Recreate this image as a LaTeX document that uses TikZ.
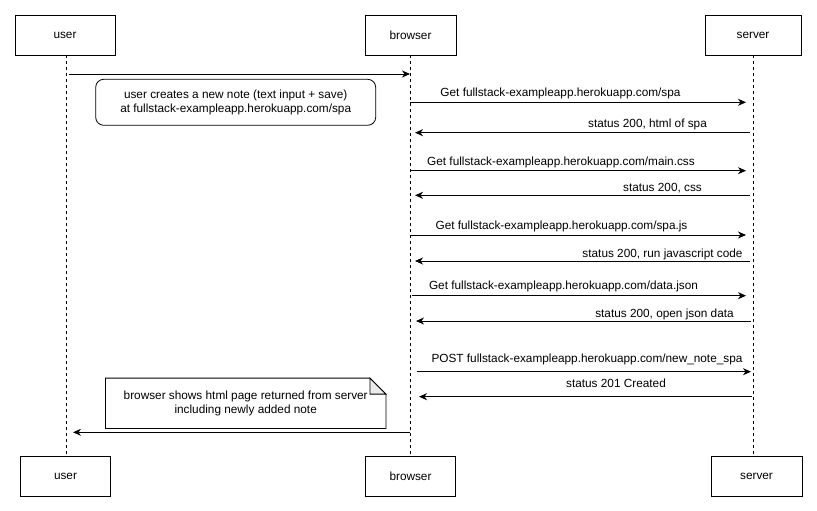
\documentclass[tikz,border=0pt]{standalone}
\usepackage{fontspec}
\setmainfont{Liberation Sans}
\usetikzlibrary{arrows.meta}
\definecolor{foldgray}{HTML}{EBEBEB}
\begin{document}
\begin{tikzpicture}[x=1pt,y=-1pt,
  actor/.style={draw,line width=0.8pt,minimum width=#1,minimum height=40pt,inner sep=0pt,font=\fontsize{11.8}{14}\selectfont},
  actor/.default=90pt,
  life/.style={dashed,line width=0.7pt,dash pattern=on 3pt off 3pt},
  msg/.style={line width=0.9pt,-{Stealth[length=8pt,width=7pt,inset=2.5pt]}},
  lbl/.style={anchor=base,inner sep=0pt,font=\fontsize{11.8}{14}\selectfont},
  notebox/.style={draw,rounded corners=8pt,line width=0.8pt,minimum width=280pt,minimum height=46pt,align=center,font=\fontsize{11.8}{14}\selectfont,inner sep=0pt}
]
\useasboundingbox (0,0) rectangle (817,511);
% actors top
\node[actor=100pt] (userT) at (65,35) {user};
\node[actor=91pt] (browserT) at (410.5,35) {browser};
\node[actor=96pt] (serverT) at (753,35) {server};
% actors bottom
\node[actor=90pt] (userB) at (65.5,476) {user};
\node[actor=90pt] (browserB) at (410.5,476) {browser};
\node[actor=91pt] (serverB) at (756.5,476) {server};
% lifelines
\coordinate (uTop) at (66,55); \coordinate (uBot) at (66,456);
\coordinate (bTop) at (410.5,55); \coordinate (bBot) at (410.5,456);
\coordinate (sTop) at (753,55); \coordinate (sBot) at (753,456);
\draw[life] (uTop) -- (uBot);
\draw[life] (bTop) -- (bBot);
\draw[life] (sTop) -- (sBot);
% message 0
\coordinate (m0s) at (69,74); \coordinate (m0e) at (410,74);
\draw[msg] (m0s) -- (m0e);
\node[notebox] (note1) at (235.7,102.3) {user creates a new note (text input + save)\\at fullstack-exampleapp.herokuapp.com/spa};
% messages
\coordinate (m1s) at (410,102.3); \coordinate (m1e) at (746,102.3);
\draw[msg] (m1s) -- (m1e);
\node[lbl] (l1) at (560.5,96) {Get fullstack-exampleapp.herokuapp.com/spa};
\coordinate (m2s) at (750,132.7); \coordinate (m2e) at (415,132.7);
\draw[msg] (m2s) -- (m2e);
\node[lbl] (l2) at (647.5,127) {status 200, html of spa};
\coordinate (m3s) at (410,170.7); \coordinate (m3e) at (746,170.7);
\draw[msg] (m3s) -- (m3e);
\node[lbl] (l3) at (561,165) {Get fullstack-exampleapp.herokuapp.com/main.css};
\coordinate (m4s) at (750,195.3); \coordinate (m4e) at (415,195.3);
\draw[msg] (m4s) -- (m4e);
\node[lbl] (l4) at (662.5,191) {status 200, css};
\coordinate (m5s) at (410,235); \coordinate (m5e) at (746,235);
\draw[msg] (m5s) -- (m5e);
\node[lbl] (l5) at (561.5,229) {Get fullstack-exampleapp.herokuapp.com/spa.js};
\coordinate (m6s) at (750,261); \coordinate (m6e) at (415,261);
\draw[msg] (m6s) -- (m6e);
\node[lbl] (l6) at (662.5,257) {status 200, run javascript code};
\coordinate (m7s) at (412,295.7); \coordinate (m7e) at (746,295.7);
\draw[msg] (m7s) -- (m7e);
\node[lbl] (l7) at (563.5,289) {Get fullstack-exampleapp.herokuapp.com/data.json};
\coordinate (m8s) at (751,321); \coordinate (m8e) at (416,321);
\draw[msg] (m8s) -- (m8e);
\node[lbl] (l8) at (664.5,317) {status 200, open json data};
\coordinate (m9s) at (416.7,371.7); \coordinate (m9e) at (751,371.7);
\draw[msg] (m9s) -- (m9e);
\node[lbl] (l9) at (587,362) {POST fullstack-exampleapp.herokuapp.com/new\_note\_spa};
\coordinate (m10s) at (752,396.7); \coordinate (m10e) at (419,396.7);
\draw[msg] (m10s) -- (m10e);
\node[lbl] (l10) at (616,387) {status 201 Created};
% note 2
\node[minimum width=280pt,minimum height=50pt,inner sep=0pt,align=center,font=\fontsize{11.8}{14}\selectfont] (note2) at (245.7,403.3) {browser shows html page returned from server\\including newly added note};
\draw[line width=0.8pt] (note2.north west) -- ([xshift=-16pt]note2.north east) -- ([yshift=-16pt]note2.north east) -- (note2.south east) -- (note2.south west) -- cycle;
\draw[line width=0.8pt,fill=foldgray] ([xshift=-16pt]note2.north east) -- ([xshift=-16pt,yshift=-16pt]note2.north east) -- ([yshift=-16pt]note2.north east) -- cycle;
% message back to user
\coordinate (m11s) at (410,432.3); \coordinate (m11e) at (73,432.3);
\draw[msg] (m11s) -- (m11e);
\end{tikzpicture}
\end{document}
